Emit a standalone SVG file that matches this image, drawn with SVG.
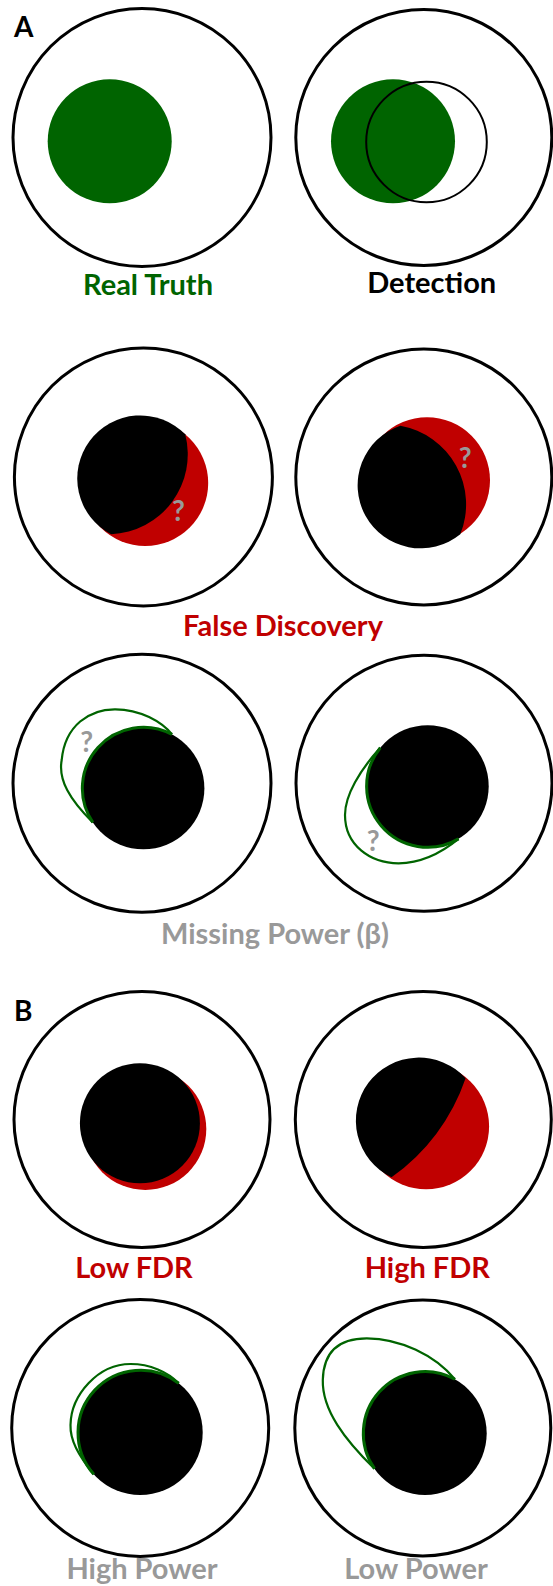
<svg xmlns="http://www.w3.org/2000/svg" width="553" height="1586" viewBox="0 0 553 1586">
<style>
.outer{fill:#fff;stroke:#000;stroke-width:3}
.lbl{font-family:Lato,"Liberation Sans",sans-serif;font-weight:bold;font-size:29px;text-anchor:middle}
.big{font-family:Lato,"Liberation Sans",sans-serif;font-weight:bold;font-size:28px}
.q{font-family:Lato,"Liberation Sans",sans-serif;font-weight:bold;font-size:28px;fill:#999;text-anchor:middle}
.loop{fill:none;stroke:#006400;stroke-width:2.2}
.edge{fill:none;stroke:#006400;stroke-width:3}
.red{fill:#c00000}
.blk{fill:#000}
</style>
<rect width="553" height="1586" fill="#fff"/>
<text class="big" x="14" y="37">A</text>
<text class="big" x="14" y="1021">B</text>

<g id="real-truth">
<circle class="outer" cx="142" cy="137.5" r="129"/>
<circle cx="109.7" cy="141.3" r="62" fill="#006400"/>
<text class="lbl" x="148" y="295" fill="#006400">Real Truth</text>
</g>
<g id="detection">
<circle class="outer" cx="423.8" cy="137.5" r="128"/>
<circle cx="393" cy="141.3" r="62" fill="#006400"/>
<circle cx="426.5" cy="142" r="60.3" fill="none" stroke="#000" stroke-width="2"/>
<text class="lbl" x="431.7" y="293" fill="#000">Detection</text>
</g>

<g id="fd-left">
<circle class="outer" cx="143.4" cy="477" r="129"/>
<circle class="red" cx="145.2" cy="483" r="63"/>
<path class="blk" d="M185.2 434.3 A63 63 0 1 0 111.1 534.3 A80 80 0 0 0 185.2 434.3Z"/>
<text class="q" x="178.5" y="521">?</text>
</g>
<g id="fd-right">
<circle class="outer" cx="423.8" cy="477" r="128"/>
<circle class="red" cx="427" cy="480.3" r="63"/>
<path class="blk" d="M400.4 425.7 A63 63 0 1 0 460.3 534.3 A80 80 0 0 0 400.4 425.7Z"/>
<text class="q" x="465.3" y="468">?</text>
</g>
<text id="lbl-fd" class="lbl" x="283" y="636" fill="#c00000">False Discovery</text>

<g id="mp-left">
<circle class="outer" cx="142" cy="783.3" r="129"/>
<circle class="blk" cx="143.4" cy="788.3" r="61"/>
<path class="loop" d="M92.8 822.4 C70 800 58 780 61.7 760 C65 725 90 709.3 114.6 709.3 C140 709 162 722 172 734.4"/>
<path class="edge" d="M172 734.4 A61 61 0 0 0 92.8 822.4"/>
<text class="q" x="86.7" y="752">?</text>
</g>
<g id="mp-right">
<circle class="outer" cx="424" cy="783.3" r="128"/>
<circle class="blk" cx="427.7" cy="786.2" r="61"/>
<path class="loop" d="M380.3 747.8 C360 770 345 795 345 815 C345 845 370 863.3 398.6 863.3 C425 863 445 850 458.5 838.9"/>
<path class="edge" d="M458.5 838.9 A61 61 0 0 1 380.3 747.8"/>
<text class="q" x="373.3" y="851">?</text>
</g>
<text id="lbl-mp" class="lbl" x="275" y="944" fill="#999">Missing Power (β)</text>

<g id="low-fdr">
<circle class="outer" cx="142" cy="1119.5" r="128"/>
<circle class="red" cx="145.3" cy="1129" r="61"/>
<circle class="blk" cx="139.9" cy="1123.3" r="60"/>
<text class="lbl" x="134" y="1277.5" fill="#c00000">Low FDR</text>
</g>
<g id="high-fdr">
<circle class="outer" cx="423.3" cy="1119.5" r="128"/>
<circle class="red" cx="426.1" cy="1126.3" r="63"/>
<path class="blk" d="M465.6 1078.3 A63 63 0 1 0 391.5 1177.3 A200 200 0 0 0 465.6 1078.3Z"/>
<text class="lbl" x="427.3" y="1277.5" fill="#c00000">High FDR</text>
</g>

<g id="high-power">
<circle class="outer" cx="140.2" cy="1428" r="128.5"/>
<circle class="blk" cx="140.2" cy="1432.5" r="62.5"/>
<path class="loop" d="M93.8 1474.3 C78 1455 70 1440 70.5 1425 C71 1395 98 1364 130.5 1364 C150 1364 168 1372 178.7 1383.3"/>
<path class="edge" d="M178.7 1383.3 A62.5 62.5 0 0 0 93.8 1474.3"/>
<text class="lbl" x="142" y="1579" fill="#999">High Power</text>
</g>
<g id="low-power">
<circle class="outer" cx="422.8" cy="1428" r="128"/>
<circle class="blk" cx="425" cy="1433.3" r="61.7"/>
<path class="loop" d="M374.5 1468.7 C345 1440 322 1410 322.8 1380 C323.5 1350 340 1338.3 366.8 1338.3 C400 1338.5 435 1355 454.9 1379.3"/>
<path class="edge" d="M454.9 1379.3 A61.7 61.7 0 0 0 374.5 1468.7"/>
<text class="lbl" x="416" y="1579" fill="#999">Low Power</text>
</g>
<g id="connectors"/>
</svg>
